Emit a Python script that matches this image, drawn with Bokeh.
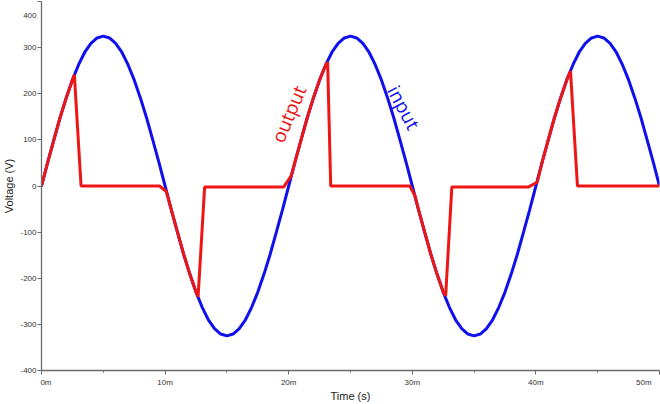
from bokeh.plotting import figure
from bokeh.models import FixedTicker, Label
from bokeh.embed import file_html
from bokeh.resources import INLINE

# Sample times (ms) of the simulated supply voltage
time_ms = [
    0.0, 0.5, 1.0, 1.5, 2.0, 2.5, 3.0, 3.5, 4.0, 4.5,
    5.0, 5.5, 6.0, 6.5, 7.0, 7.5, 8.0, 8.5, 9.0, 9.5,
    10.0, 10.5, 11.0, 11.5, 12.0, 12.5, 13.0, 13.5, 14.0, 14.5,
    15.0, 15.5, 16.0, 16.5, 17.0, 17.5, 18.0, 18.5, 19.0, 19.5,
    20.0, 20.5, 21.0, 21.5, 22.0, 22.5, 23.0, 23.5, 24.0, 24.5,
    25.0, 25.5, 26.0, 26.5, 27.0, 27.5, 28.0, 28.5, 29.0, 29.5,
    30.0, 30.5, 31.0, 31.5, 32.0, 32.5, 33.0, 33.5, 34.0, 34.5,
    35.0, 35.5, 36.0, 36.5, 37.0, 37.5, 38.0, 38.5, 39.0, 39.5,
    40.0, 40.5, 41.0, 41.5, 42.0, 42.5, 43.0, 43.5, 44.0, 44.5,
    45.0, 45.5, 46.0, 46.5, 47.0, 47.5, 48.0, 48.5, 49.0, 49.5,
    50.0,
]

# Input (mains) voltage in volts
input_v = [
    0, 51, 100, 148, 191, 230, 263, 290, 309, 321,
    325, 321, 309, 290, 263, 230, 191, 148, 100, 51,
    0, -51, -100, -148, -191, -230, -263, -290, -309, -321,
    -325, -321, -309, -290, -263, -230, -191, -148, -100, -51,
    0, 51, 100, 148, 191, 230, 263, 290, 309, 321,
    325, 321, 309, 290, 263, 230, 191, 148, 100, 51,
    0, -51, -100, -148, -191, -230, -263, -290, -309, -321,
    -325, -321, -309, -290, -263, -230, -191, -148, -100, -51,
    0, 51, 100, 148, 191, 230, 263, 290, 309, 321,
    325, 321, 309, 290, 263, 230, 191, 148, 100, 51,
    0,
]

# Output voltage: conducts from each zero crossing until it is cut off
output_t = [
    0.0, 0.5, 1.0, 1.5, 2.0, 2.5, 2.66, 3.2,
    9.55, 10.1, 10.5, 11.0, 11.5, 12.0, 12.5, 12.67, 13.2,
    19.6, 20.2, 20.5, 21.0, 21.5, 22.0, 22.5, 23.0, 23.15, 23.4,
    29.8, 30.2, 30.5, 31.0, 31.5, 32.0, 32.5, 32.7, 33.2,
    39.4, 40.1, 40.5, 41.0, 41.5, 42.0, 42.5, 42.8, 43.36,
    50.0,
]
output_v = [
    0, 51, 100, 148, 191, 230, 241, 0,
    0, -12, -51, -100, -148, -191, -230, -240, -2,
    -2, 22, 51, 100, 148, 191, 230, 263, 268, 0,
    0, -20, -51, -100, -148, -191, -230, -238, -2,
    -2, 8, 51, 100, 148, 191, 230, 249, 0,
    0,
]

x_ticks = [0, 10, 20, 30, 40, 50]
x_minor_ticks = [5, 15, 25, 35, 45]
x_tick_labels = ["0m", "10m", "20m", "30m", "40m", "50m"]
y_ticks = [-400, -300, -200, -100, 0, 100, 200, 300, 400]
y_tick_labels = ["-400", "-300", "-200", "-100", "0", "100", "200", "300", "400"]

FONT = "Liberation Sans"
AXIS_GREY = "#6b6b6b"
LABEL_GREY = "#333333"
NBSP = "\u00a0"

p = figure(
    width=660, height=404,
    x_range=(0, 50), y_range=(-400, 400),
    output_backend="svg", toolbar_location=None,
    min_border_left=33, min_border_right=1,
    min_border_top=1, min_border_bottom=27,
)
p.grid.visible = False
p.outline_line_color = None
p.background_fill_color = "white"
p.border_fill_color = "white"

p.line(time_ms, input_v, line_color="#1010ee", line_width=3)
p.line(output_t, output_v, line_color="#ee1515", line_width=3)

# Axes
for ax in (p.xaxis[0], p.yaxis[0]):
    ax.axis_line_color = AXIS_GREY
    ax.axis_line_width = 1.3
    ax.major_tick_line_color = AXIS_GREY
    ax.minor_tick_line_color = AXIS_GREY
    ax.major_tick_in = 0
    ax.major_tick_out = 4
    ax.minor_tick_in = 0
    ax.minor_tick_out = 2
    ax.major_label_text_font = FONT
    ax.major_label_text_font_size = "8px"
    ax.major_label_text_color = LABEL_GREY
    ax.axis_label_text_font = FONT
    ax.axis_label_text_font_size = "11px"
    ax.axis_label_text_font_style = "normal"
    ax.axis_label_text_color = "#222222"

# End tick labels are padded so they stay inside the canvas
p.xaxis.ticker = FixedTicker(ticks=x_ticks, minor_ticks=x_minor_ticks)
x_over = {t: lab for t, lab in zip(x_ticks, x_tick_labels)}
x_over[x_ticks[0]] = NBSP * 4 + x_tick_labels[0]
x_over[x_ticks[-1]] = x_tick_labels[-1] + NBSP * 4
p.xaxis.major_label_overrides = x_over
p.xaxis.major_label_standoff = 3
p.xaxis.axis_label = "Time (s)"
p.xaxis.axis_label_standoff = 0

p.yaxis.ticker = FixedTicker(ticks=y_ticks, minor_ticks=[])
y_over = {t: lab for t, lab in zip(y_ticks, y_tick_labels)}
y_over[y_ticks[-1]] = "\n" + y_tick_labels[-1]
p.yaxis.major_label_overrides = y_over
p.yaxis.major_label_standoff = 1
p.yaxis.axis_label = "Voltage (V)"
p.yaxis.axis_label_standoff = 2

# Curve names written alongside the traces
p.add_layout(Label(x=20.0, y=156, text="output", angle=67, angle_units="deg",
                   text_align="center", text_baseline="middle",
                   text_font="Open Sans", text_font_size="19px",
                   text_color="#ee1515"))
p.add_layout(Label(x=29.3, y=170, text="input", angle=-62, angle_units="deg",
                   text_align="center", text_baseline="middle",
                   text_font="Open Sans", text_font_size="19px",
                   text_color="#1010ee"))

open("out.html", "w").write(file_html(p, INLINE))
